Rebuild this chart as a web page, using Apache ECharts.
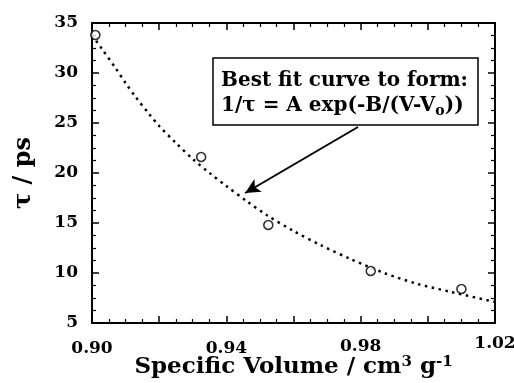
<!DOCTYPE html>
<html>
<head>
<meta charset="utf-8">
<script src="https://cdn.jsdelivr.net/npm/echarts@6/dist/echarts.min.js"></script>
<style>
  html, body { margin: 0; padding: 0; background: #fff; }
  #chart { width: 514px; height: 383px; }
</style>
</head>
<body>
<div id="chart"></div>
<script>
// measured points
var volume = [0.901, 0.9325, 0.9525, 0.983, 1.010];
var tau = [33.8, 21.6, 14.8, 10.2, 8.4];

// dotted fit curve
var fitVolume = [0.900, 0.903, 0.907, 0.910, 0.913, 0.917, 0.920, 0.925, 0.930, 0.935,
                 0.940, 0.946, 0.952, 0.960, 0.968, 0.977, 0.987, 0.997, 1.007, 1.020];
var fitTau = [33.8, 32.4, 30.5, 29.0, 27.6, 25.9, 24.7, 23.0, 21.4, 20.0,
              18.7, 17.2, 15.8, 14.2, 12.8, 11.4, 10.0, 8.9, 8.1, 7.1];

var xTicks = ['0.90', '0.94', '0.98', '1.02'];

var FONT = 'DejaVu Serif';

function zip(a, b) {
    var out = [];
    for (var i = 0; i < a.length; i++) out.push([a[i], b[i]]);
    return out;
}

var axisCommon = {
    axisLine: { show: true, lineStyle: { color: '#000', width: 2 } },
    axisTick: { show: true, inside: true, length: 7, lineStyle: { color: '#000', width: 1.5 } },
    minorTick: { show: true, splitNumber: 4, length: 4, lineStyle: { color: '#000', width: 1.2 } },
    splitLine: { show: false }
};

var labelFont = { fontFamily: FONT, fontWeight: 'bold', fontSize: 17, color: '#000' };

var chart = echarts.init(document.getElementById('chart'));

var option = {
    animation: false,
    grid: { left: 92, right: 19, top: 23, bottom: 60, containLabel: false, outerBoundsMode: 'none' },
    xAxis: [
        Object.assign({
            type: 'value', min: 0.90, max: 1.02, interval: 0.02,
            name: 'Specific Volume / cm{sup|3} g{sup|-1}',
            nameLocation: 'middle', nameGap: 32, nameMoveOverlap: false,
            nameTextStyle: {
                fontFamily: FONT, fontWeight: 'bold', fontSize: 23, color: '#000',
                rich: { sup: { fontFamily: FONT, fontWeight: 'bold', fontSize: 15, color: '#000', padding: [0, 0, 10, 0] } }
            },
            axisLabel: {
                margin: 12,
                rich: {
                    a: Object.assign({ padding: [5, 0, 0, 0] }, labelFont),
                    b: Object.assign({ padding: [3, 0, 0, 0] }, labelFont),
                    c: Object.assign({ padding: [0, 0, 0, 0] }, labelFont)
                },
                formatter: function (v) {
                    var s = v.toFixed(2);
                    var k = xTicks.indexOf(s);
                    if (k < 0) return '';
                    return '{' + (k < 2 ? 'a' : k === 2 ? 'b' : 'c') + '|' + s + '}';
                }
            }
        }, axisCommon),
        Object.assign({
            type: 'value', min: 0.90, max: 1.02, interval: 0.02, position: 'top',
            axisLabel: { show: false }
        }, axisCommon)
    ],
    yAxis: [
        Object.assign({
            type: 'value', min: 5, max: 35, interval: 5,
            name: 'τ / ps', nameLocation: 'middle', nameGap: 56, nameRotate: 90, nameMoveOverlap: false,
            nameTextStyle: { fontFamily: FONT, fontWeight: 'bold', fontSize: 24, color: '#000' },
            axisLabel: Object.assign({ margin: 14, padding: [0, 0, 7, 0] }, labelFont)
        }, axisCommon),
        Object.assign({
            type: 'value', min: 5, max: 35, interval: 5, position: 'right',
            axisLabel: { show: false }
        }, axisCommon)
    ],
    series: [
        {
            type: 'line',
            data: zip(fitVolume, fitTau),
            smooth: 0.3,
            showSymbol: false,
            lineStyle: { color: '#000', width: 2.5, type: [2.5, 4.5] },
            markLine: {
                silent: true,
                symbol: ['none', 'arrow'],
                symbolSize: [11, 15],
                label: { show: false },
                lineStyle: { color: '#000', width: 2, type: 'solid' },
                data: [[{ coord: [0.9792, 24.6] }, { coord: [0.9456, 18.0] }]]
            },
            z: 2
        },
        {
            type: 'scatter',
            data: zip(volume, tau),
            symbol: 'circle',
            symbolSize: 9,
            itemStyle: { color: '#fff', borderColor: '#000', borderWidth: 1.6 },
            z: 3
        }
    ],
    graphic: [
        {
            type: 'rect',
            shape: { x: 213, y: 58, width: 265, height: 67 },
            style: { fill: '#fff', stroke: '#000', lineWidth: 1.5 },
            z: 10
        },
        {
            type: 'text',
            x: 221, y: 71,
            style: {
                text: 'Best fit curve to form:',
                font: 'bold 20px "DejaVu Serif"', fill: '#000'
            },
            z: 11
        },
        {
            type: 'text',
            x: 221, y: 94,
            style: {
                text: '1/τ = A exp(-B/(V-V{sub|o}))',
                font: 'bold 20px "DejaVu Serif"', fill: '#000',
                rich: { sub: { font: 'bold 14px "DejaVu Serif"', padding: [10, 0, 0, 0] } }
            },
            z: 11
        }
    ]
};

chart.setOption(option);
</script>
</body>
</html>
